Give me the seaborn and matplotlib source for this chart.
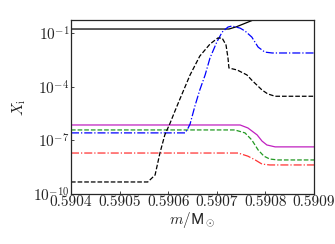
import numpy as np
import pandas as pd
import matplotlib
matplotlib.use('Agg')
import matplotlib.pyplot as plt
import seaborn as sns

# 질량 좌표와 존재비
m_solid = [0.5904, 0.590725, 0.590740, 0.590755, 0.590775, 0.5909]
x_solid = [0.166, 0.166, 0.22, 0.32, 0.53, 0.53]

m_dash = [0.5904, 0.590558, 0.590573, 0.590583, 0.590593, 0.590604, 0.590614,
          0.590624, 0.590645, 0.590665, 0.590686, 0.590702, 0.590711, 0.590719,
          0.590723, 0.590725, 0.590742, 0.590762, 0.590772, 0.590793, 0.590805,
          0.590820, 0.5909]
x_dash = [4.7e-10, 4.7e-10, 1.15e-9, 1.95e-8, 2.0e-7, 9.3e-7, 4.4e-6,
          2.0e-5, 4.5e-4, 5.1e-3, 2.4e-2, 5.2e-2, 5.2e-2, 2.1e-2,
          4.0e-3, 1.1e-3, 8.5e-4, 4.5e-4, 2.3e-4, 6.5e-5, 3.9e-5,
          2.9e-5, 2.9e-5]

m_blue = [0.5904, 0.590635, 0.590641, 0.590645, 0.590655, 0.590665, 0.590676,
          0.590686, 0.590700, 0.590711, 0.590723, 0.590731, 0.590748, 0.590758,
          0.590772, 0.590785, 0.590799, 0.590814, 0.5909]
x_blue = [2.6e-7, 2.6e-7, 4.9e-7, 8.1e-7, 8.3e-6, 6.5e-5, 4.5e-4,
          4.0e-3, 3.1e-2, 0.112, 0.214, 0.245, 0.186, 0.129,
          0.059, 0.0162, 8.5e-3, 7.6e-3, 7.6e-3]

m_mag = [0.5904, 0.590748, 0.590764, 0.590783, 0.590793, 0.590803, 0.590820, 0.5909]
x_mag = [7.2e-7, 7.2e-7, 4.9e-7, 2.0e-7, 9.1e-8, 5.5e-8, 4.3e-8, 4.3e-8]

m_green = [0.5904, 0.590737, 0.590758, 0.590772, 0.590785, 0.590797, 0.590809,
           0.590826, 0.5909]
x_green = [3.8e-7, 3.8e-7, 2.6e-7, 1.05e-7, 2.9e-8, 1.3e-8, 9.0e-9, 8.0e-9, 8.0e-9]

m_red = [0.5904, 0.590744, 0.590764, 0.590779, 0.590793, 0.590809, 0.5909]
x_red = [1.95e-8, 1.95e-8, 1.3e-8, 8.0e-9, 4.7e-9, 4.2e-9, 4.2e-9]

x_ticks = [0.5904, 0.5905, 0.5906, 0.5907, 0.5908, 0.5909]
y_ticks = [1e-10, 1e-7, 1e-4, 1e-1]

sns.set_style('ticks')
plt.rcParams['font.family'] = ['cmr10', 'DejaVu Sans']
plt.rcParams['mathtext.fontset'] = 'cm'
plt.rcParams['axes.formatter.use_mathtext'] = True
plt.rcParams['axes.unicode_minus'] = False

fig = plt.figure(figsize=(3.35, 2.44), dpi=100)
ax = fig.add_axes([71 / 335, 1 - 194 / 244, 243 / 335, 174 / 244])

series = [
    (m_solid, x_solid, 'black', '-'),
    (m_mag, x_mag, '#c020c0', '-'),
    (m_green, x_green, '#229922', '--'),
    (m_red, x_red, '#ff3333', '-.'),
    (m_blue, x_blue, '#0000ff', '-.'),
    (m_dash, x_dash, 'black', '--'),
]
for m, x, c, ls in series:
    sns.lineplot(x=m, y=x, color=c, linestyle=ls, linewidth=0.9, ax=ax)

ax.set_yscale('log')
ax.set_xlim(0.5904, 0.5909)
ax.set_ylim(1e-10, 0.53)
ax.set_xticks(x_ticks)
ax.set_xticklabels([f'{t:.4f}' for t in x_ticks])
ax.set_yticks(y_ticks)
ax.set_yticklabels([r'$10^{-10}$', r'$10^{-7}$', r'$10^{-4}$', r'$10^{-1}$'])
ax.minorticks_off()
ax.tick_params(direction='in', length=2, width=0.6, labelsize=11, pad=1)
for s in ax.spines.values():
    s.set_linewidth(0.9)

ax.set_xlabel(r'$m/\mathsf{M}_\odot$', fontsize=11, labelpad=1)
ax.set_ylabel(r'$X_\mathrm{i}$', fontsize=11, labelpad=4)

fig.savefig('out.png', dpi=100)
